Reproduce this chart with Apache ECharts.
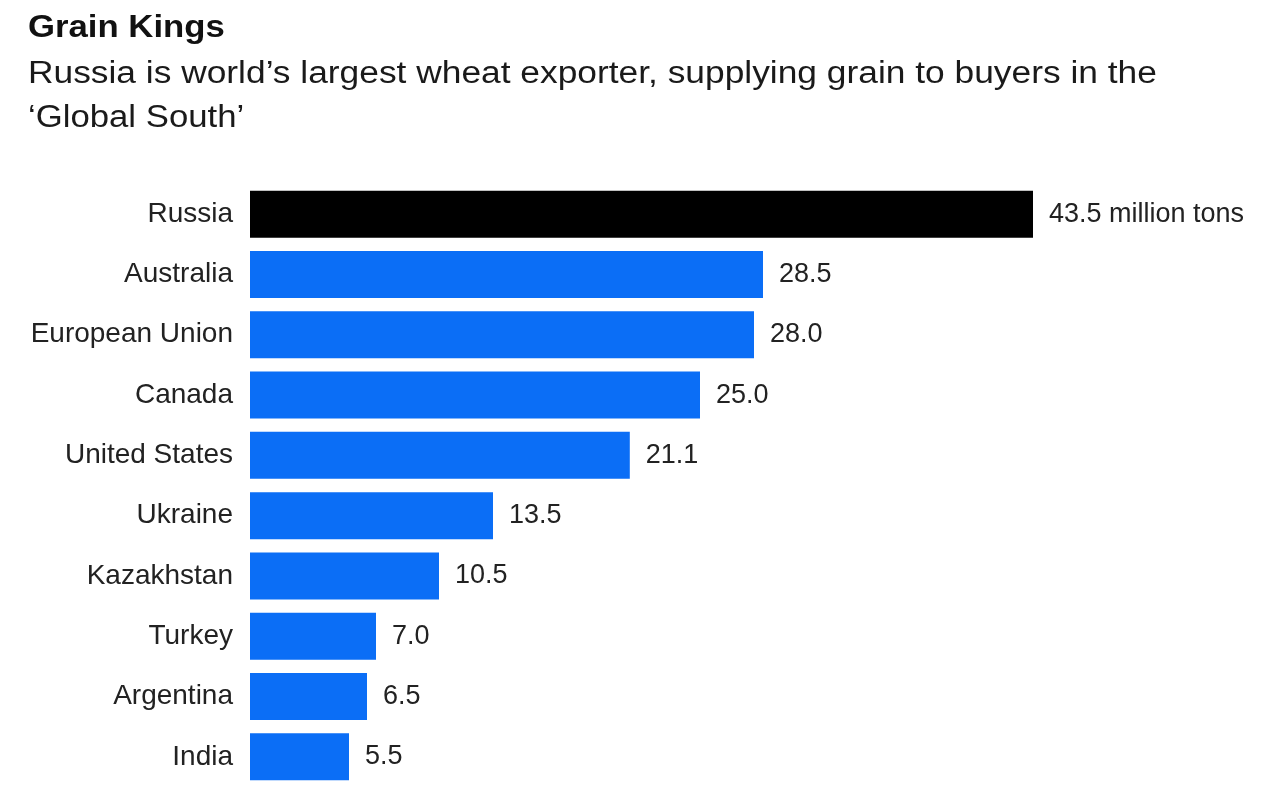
<!DOCTYPE html>
<html>
<head>
<meta charset="utf-8">
<script src="https://cdn.jsdelivr.net/npm/echarts@6/dist/echarts.min.js"></script>
<style>
html,body{margin:0;padding:0;background:#fff;}
#chart{width:1280px;height:805px;}
</style>
</head>
<body>
<div id="chart"></div>
<script>
const titleText = 'Grain Kings';
const subtitleLines = [
  'Russia is world\u2019s largest wheat exporter, supplying grain to buyers in the',
  '\u2018Global South\u2019'
];
const categories = ['Russia', 'Australia', 'European Union', 'Canada', 'United States',
  'Ukraine', 'Kazakhstan', 'Turkey', 'Argentina', 'India'];
const values = [43.5, 28.5, 28.0, 25.0, 21.1, 13.5, 10.5, 7.0, 6.5, 5.5];
const highlight = 'Russia';
const unitSuffix = ' million tons';

const FONT = '"Liberation Sans", Arial, Helvetica, sans-serif';
const BLUE = '#0b6ef6';

const chart = echarts.init(document.getElementById('chart'), null, {renderer: 'canvas'});

const option = {
  backgroundColor: '#ffffff',
  animation: false,
  graphic: [
    {
      type: 'text', x: 28, y: 28, scaleX: 1.12,
      style: {text: titleText, font: 'bold 31px ' + FONT, fill: '#111',
        align: 'left', verticalAlign: 'middle'}
    },
    {
      type: 'text', x: 28, y: 74, scaleX: 1.14,
      style: {text: subtitleLines[0], font: '31px ' + FONT, fill: '#1a1a1a',
        align: 'left', verticalAlign: 'middle'}
    },
    {
      type: 'text', x: 28, y: 118, scaleX: 1.12,
      style: {text: subtitleLines[1], font: '31px ' + FONT, fill: '#1a1a1a',
        align: 'left', verticalAlign: 'middle'}
    }
  ],
  grid: {left: 250, right: 130, top: 184, bottom: 18, containLabel: false},
  xAxis: {
    type: 'value', min: 0, max: 50,
    show: false,
    splitLine: {show: false}
  },
  yAxis: {
    type: 'category',
    data: categories,
    inverse: true,
    axisLine: {show: false},
    axisTick: {show: false},
    axisLabel: {
      margin: 17,
      fontFamily: FONT,
      fontSize: 28,
      color: '#222'
    }
  },
  series: [{
    type: 'bar',
    data: values.map((v, i) => ({
      value: v,
      itemStyle: {color: categories[i] === highlight ? '#000000' : BLUE}
    })),
    barCategoryGap: '22%',
    label: {
      show: true,
      position: 'right',
      distance: 16,
      fontFamily: FONT,
      fontSize: 27,
      color: '#222',
      formatter: p => p.value.toFixed(1) + (p.dataIndex === 0 ? unitSuffix : '')
    }
  }]
};
chart.setOption(option);
</script>
</body>
</html>
